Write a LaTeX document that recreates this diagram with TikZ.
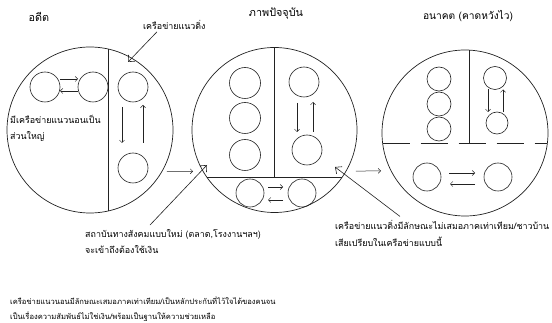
\documentclass[tikz,border=0pt]{standalone}
\usepackage{fontspec}
\newfontfamily\thaifont[Script=Thai]{Loma}
\usetikzlibrary{arrows.meta, positioning, calc}
\definecolor{Ink}{HTML}{222222}

\begin{document}
\begin{tikzpicture}[
  x=1pt, y=-1pt,
  font=\thaifont\fontsize{8.9}{16.5}\selectfont,
  ring/.style={circle, draw=Ink, line width=0.7pt, minimum size=#1, inner sep=0pt, outer sep=0pt},
  member/.style={circle, draw=Ink, line width=0.6pt, minimum size=#1, inner sep=0pt, outer sep=0pt},
  note/.style={inner sep=0pt, text=black},
  title/.style={inner sep=0pt, text=black, font=\thaifont\fontsize{10.8}{13}\selectfont},
  divide/.style={draw=Ink, line width=0.7pt},
  arr/.style={-{Straight Barb[length=2.5pt,width=5pt]}, draw=Ink, line width=0.5pt},
  ptr/.style={-{Straight Barb[length=5pt,width=9pt]}, draw=Ink, line width=0.6pt}
]
\fill[white] (0,0) rectangle (552,323);
\useasboundingbox (0,0) rectangle (552,323);

% titles
\node[title] (tpast) at (39,17) {อดีต};
\node[title] (tnow) at (276,14) {ภาพปัจจุบัน};
\node[title, font=\thaifont\fontsize{10.2}{13}\selectfont] (tfut) at (468,16) {อนาคต (คาดหวังไว)};

% the three big circles
\node[ring=166pt] (past) at (90,130) {};
\node[ring=165pt] (now) at (274.5,130) {};
\node[ring=166pt] (fut) at (465,133) {};

\draw[divide] (past.77) -- (past.-77);
\draw[divide] (now.-145) -- (now.-35);
\draw[divide] (now.north) -- (now.north |- now.-35);
\draw[divide, dash pattern=on 27pt off 11pt] (fut.-173) -- (fut.-7);
\draw[divide] (fut.87) -- (fut.87 |- fut.-7);

% past
\node[member=30pt] (a1) at (45,87) {};
\node[member=30pt] (a2) at (93,87) {};
\draw[arr] ([yshift=8pt]a1.east) -- ([yshift=8pt]a2.west);
\draw[arr] ([yshift=-4pt]a2.west) -- ([yshift=-4pt]a1.east);
\node[member=30pt] (v1) at (133,87) {};
\node[member=30pt] (v2) at (133,168) {};
\draw[arr, shorten <=5pt, shorten >=10pt] ([xshift=-11pt]v1.south) -- ([xshift=-11pt]v2.north);
\draw[arr, shorten <=10pt, shorten >=3pt] ([xshift=10pt]v2.north) -- ([xshift=10pt]v1.south);
\node[note, anchor=west, align=left] (horiz) at (10,128.5) {มีเครือข่ายแนวนอนเป็น\\ส่วนใหญ่};

% present
\node[member=31pt] (c1) at (245,83) {};
\node[member=31pt] (c2) at (245,118) {};
\node[member=31pt] (c3) at (245,155) {};
\node[member=30pt] (r1) at (304,82) {};
\node[member=30pt] (r2) at (307,150) {};
\draw[arr, shorten <=6pt, shorten >=3pt] ([xshift=-7pt]r1.south) -- ([xshift=-10pt]r2.north);
\draw[arr, shorten <=3pt, shorten >=5pt] ([xshift=6pt]r2.north) -- ([xshift=9pt]r1.south);
\node[member=28pt] (b1) at (250,193) {};
\node[member=28pt] (b2) at (302,193) {};
\draw[arr, shorten <=4pt, shorten >=5pt] ([yshift=6pt]b1.east) -- ([yshift=6pt]b2.west);
\draw[arr, shorten <=5pt, shorten >=4pt] ([yshift=-7pt]b2.west) -- ([yshift=-7pt]b1.east);

% future
\node[member=24pt] (f1) at (439,79) {};
\node[member=24pt] (f2) at (439,104) {};
\node[member=24pt] (f3) at (439,129) {};
\node[member=23pt] (g1) at (495,78) {};
\node[member=22pt] (g2) at (497,123) {};
\draw[arr] ([xshift=-7pt]g1.south) -- ([xshift=-9pt]g2.north);
\draw[arr] ([xshift=6pt]g2.north) -- ([xshift=8pt]g1.south);
\node[member=28pt] (h1) at (427,177) {};
\node[member=28pt] (h2) at (498,177) {};
\draw[arr, shorten <=8pt, shorten >=9pt] ([yshift=4pt]h1.east) -- ([yshift=4pt]h2.west);
\draw[arr, shorten <=9pt, shorten >=9pt] ([yshift=-7pt]h2.west) -- ([yshift=-7pt]h1.east);

% time arrows
\draw[arr, shorten <=5pt, shorten >=10pt] (past.-30) -- (now.-150);
\draw[arr, shorten <=10pt, shorten >=10pt] (now.-30) -- (fut.-153);

% labels with pointers
\node[note, anchor=west] (vlbl) at (143,25) {เครือข่ายแนวดิ่ง};
\coordinate (vtip) at (128,62);
\draw[ptr] ([xshift=14pt,yshift=-2pt]vlbl.south west) -- (vtip);

\node[note, anchor=west, align=left] (inst) at (85,241.5) {สถาบันทางสังคมแบบใหม่ (ตลาด,โรงงานฯลฯ)\\จะเข้าถึงต้องใช้เงิน};
\coordinate (itip) at (207,165);
\draw[ptr] ([xshift=65pt,yshift=4pt]inst.north west) -- (itip);

\node[note, anchor=west, align=left] (vert) at (335,233.5) {เครือข่ายแนวดิ่งมีลักษณะไม่เสมอภาคเท่าเทียม/ชาวบ้าน\\เสียเปรียบในเครือข่ายแบบนี้};
\coordinate (rtip) at (335,167);
\draw[ptr] ([xshift=65pt,yshift=4pt]vert.north west) -- (rtip);

\node[note, anchor=west, align=left, font=\thaifont\fontsize{7.6}{15}\selectfont] (summary) at (10,309) {เครือข่ายแนวนอนมีลักษณะเสมอภาคเท่าเทียม/เป็นหลักประกันที่ไว้ใจได้ของคนจน\\เป็นเรื่องความสัมพันธ์ไม่ใช่เงิน/พร้อมเป็นฐานให้ความช่วยเหลือ};
\end{tikzpicture}
\end{document}
